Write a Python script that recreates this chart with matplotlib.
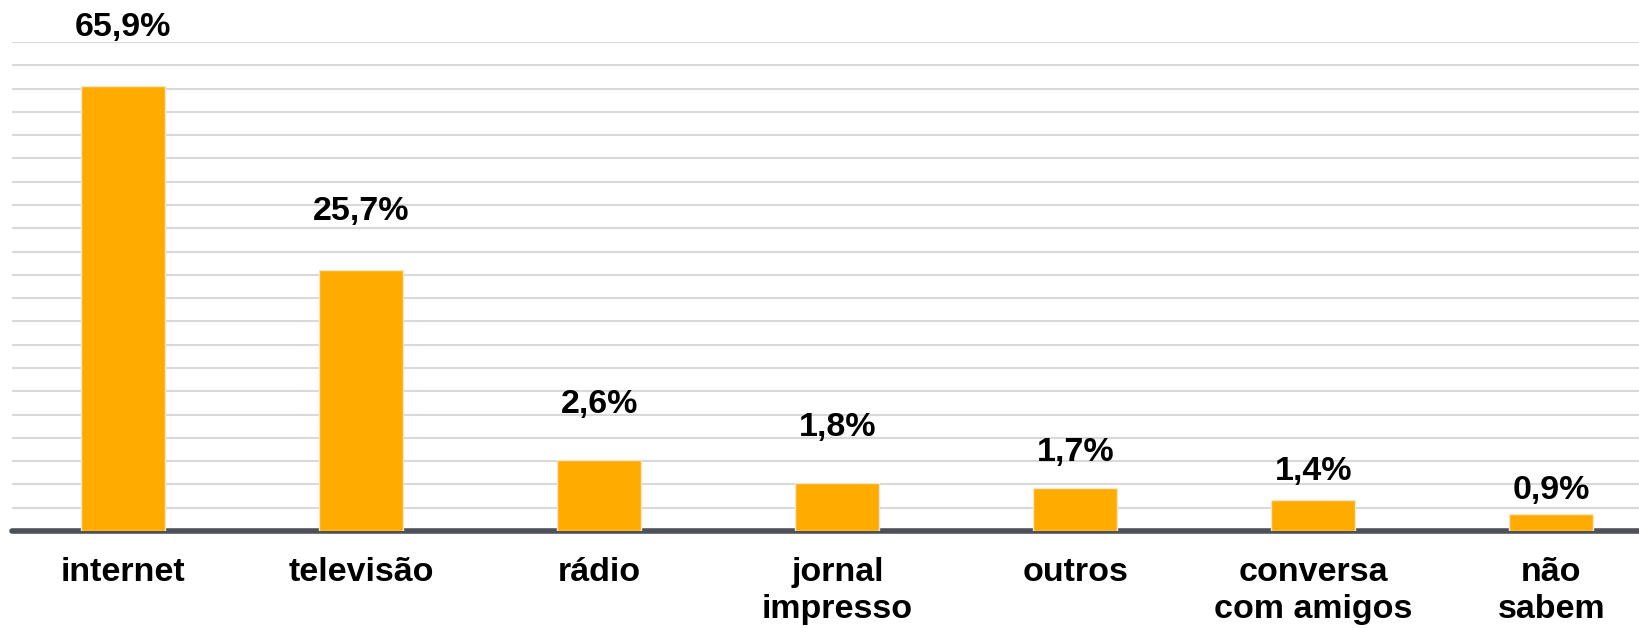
import matplotlib.pyplot as plt
import numpy as np

# dados
categorias = ['internet', 'televisão', 'rádio', 'jornal\nimpresso', 'outros',
              'conversa\ncom amigos', 'não\nsabem']
valores = [65.9, 25.7, 2.6, 1.8, 1.7, 1.4, 0.9]
rotulos = ['65,9%', '25,7%', '2,6%', '1,8%', '1,7%', '1,4%', '0,9%']

# escala nao linear do grafico original (valor -> linhas de grade)
escala_valor = [0, 0.9, 1.4, 1.8, 2.6, 25.7, 65.9, 106.1]
escala_grade = [0, 0.72, 1.31, 2.05, 3.05, 11.2, 19.1, 27.0]


def fwd(v):
    return np.interp(v, escala_valor, escala_grade)


def inv(g):
    return np.interp(g, escala_grade, escala_valor)


plt.rcParams['font.family'] = ['Liberation Sans', 'DejaVu Sans']

fig = plt.figure(figsize=(16.4, 6.28), dpi=100)
ax = fig.add_axes([0.0076, 0.1545, 0.9924, 0.7787])

ax.set_yscale('function', functions=(fwd, inv))
x = np.arange(len(categorias))
ax.bar(x, valores, width=0.353, color='#FFAB00', edgecolor='#f2e6cc',
       linewidth=1, zorder=3)

# rotulos de valor (deslocamento em pontos, como no original)
desloc = [42, 42, 40, 40, 25, 21, 17]
for xi, v, r, d in zip(x, valores, rotulos, desloc):
    ax.annotate(r, (xi, v), xytext=(0, d), textcoords='offset points',
                ha='center', va='center', fontsize=24.5, fontweight='bold')

ax.set_ylim(0, inv(21.0))
ax.set_yticks(inv(np.arange(0, 22)))
ax.set_xlim(-0.466, 6.372)
ax.grid(axis='y', color='#d9d9d9', linewidth=1.5, zorder=0)
ax.tick_params(axis='y', left=False, labelleft=False)
ax.tick_params(axis='x', length=0, pad=19)
ax.set_xticks(x)
ax.set_xticklabels(categorias, fontsize=24.5, fontweight='bold',
                   linespacing=1.22)
for s in ['top', 'left', 'right']:
    ax.spines[s].set_visible(False)
ax.spines['bottom'].set_color('#4d5059')
ax.spines['bottom'].set_linewidth(4)
ax.spines['bottom'].set_capstyle('round')

fig.savefig('out.png', dpi=100)
